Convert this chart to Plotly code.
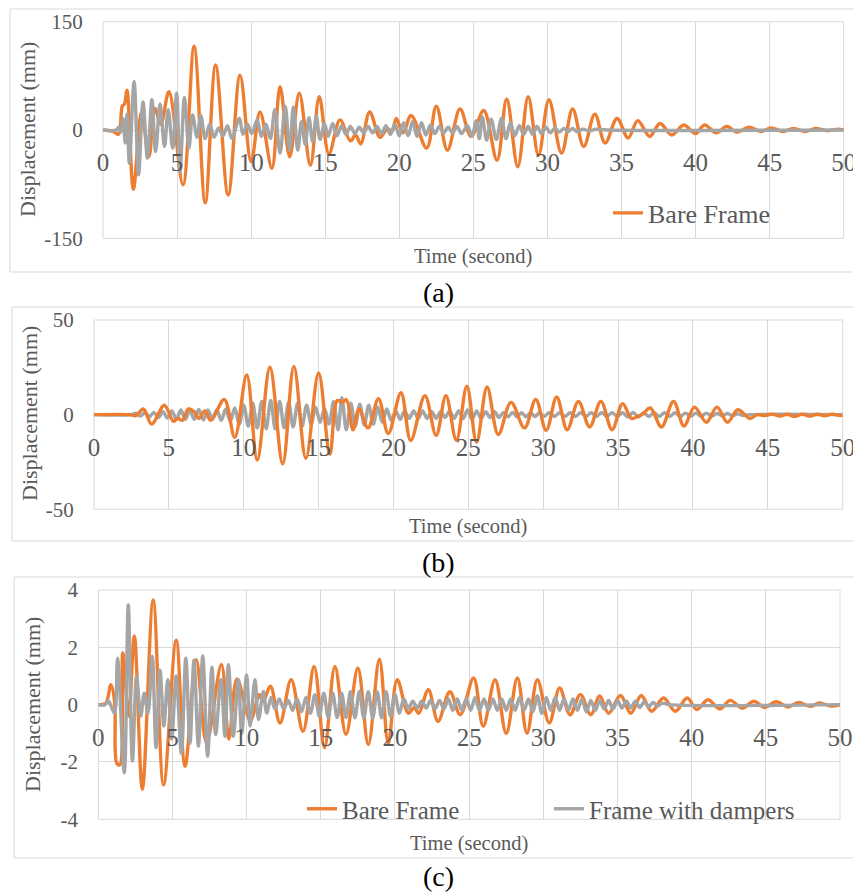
import plotly.graph_objects as go

# page body has an 8px margin, so the figure is drawn 8px smaller and shifted
OFF = 8
W, H = 861 - OFF, 892 - OFF
ORANGE = "#ED7D31"
GRAY = "#A5A5A5"
GRID = "#D9D9D9"
TXT = "#595959"
FONT = "Liberation Serif, Times New Roman, serif"

# ---------------- data: (time [s], displacement [mm]) ----------------
# Panel (a)
A_BARE = [(0, 0), (0.7, -2), (1.05, -6), (1.3, 33), (1.45, 36), (1.62, 55), (2.05, -82), (2.6, 25),
          (3.1, -37), (3.5, 30), (3.9, 8), (4.45, 53), (5.4, -76), (6.15, 116), (6.9, -101), (7.6, 90),
          (8.45, -90), (9.25, 76), (10.0, -44), (10.6, 25), (11.4, -53), (11.95, 60), (12.6, -37),
          (13.25, 51), (14.0, -49), (14.6, 46), (15.25, -33), (16.0, 14), (16.7, -15), (17.05, -7),
          (17.4, -19), (18.0, 25), (18.7, -10), (19.2, 2), (19.5, -2), (19.8, 16), (20.25, -4),
          (20.8, 20), (21.85, -25), (22.5, 33), (23.25, -28), (24.1, 29), (24.85, -9), (25.7, 27),
          (26.6, -42), (27.25, 43), (28.0, -51), (28.7, 46), (29.4, -35), (30.1, 42), (30.95, -32),
          (31.7, 29), (32.45, -23), (33.2, 22), (33.9, -18), (34.7, 16), (35.45, -11), (36.1, 13),
          (36.9, -9), (37.6, 9), (38.4, -7), (39.2, 7), (40.0, -5), (40.6, 7), (41.4, -4), (42.1, 5),
          (42.8, -3), (43.6, 4), (44.4, -2), (45.1, 3), (45.9, -2), (46.6, 2), (47.4, -2), (48.1, 2),
          (48.9, -1), (49.6, 1), (50, 0)]
A_DAMP = [(0, 0), (0.9, 0), (1.05, 4), (1.2, -3), (1.35, 16), (1.5, -18), (1.62, 22), (1.78, -46),
          (2.1, 67), (2.4, -62), (2.7, 39), (3.0, -39), (3.3, 42), (3.55, -30), (3.85, 36), (4.15, -23),
          (4.4, 28), (4.7, -25), (4.97, 51), (5.2, -58), (5.5, 45), (5.8, -25), (6.05, 21), (6.35, -10),
          (6.6, 20), (6.9, -12), (7.2, 8), (7.5, -10), (7.8, 3), (8.1, -8), (8.4, 6), (8.7, -12),
          (9.2, 16), (9.45, -6), (9.75, 8), (10.05, -5), (10.4, 14), (10.7, -9), (11.0, 8), (11.3, -12),
          (11.6, 28), (11.95, -32), (12.3, 33), (12.6, -28), (12.85, 32), (13.15, -28), (13.4, 12),
          (13.65, -20), (13.9, 17), (14.15, -16), (14.4, 19), (14.65, -13), (14.95, 9), (15.2, -9),
          (15.5, 9), (15.8, -8), (16.1, 6), (16.4, -6), (16.7, 5), (17.0, -5), (17.3, 4), (17.6, -4),
          (17.9, 5), (18.2, -4), (18.5, 5), (18.8, -5), (19.1, 6), (19.4, -6), (19.7, 8), (20.0, -8),
          (20.3, 10), (20.6, -8), (20.9, 12), (21.2, -9), (21.5, 10), (21.8, -7), (22.1, 7), (22.4, -5),
          (22.7, 5), (23.0, -4), (23.3, 4), (23.6, -4), (23.9, 5), (24.2, -5), (24.6, 6), (24.9, -9),
          (25.2, 13), (25.4, -12), (25.6, 18), (25.9, -14), (26.2, 15), (26.55, -13), (26.9, 16),
          (27.2, -12), (27.5, 10), (27.8, -8), (28.1, 6), (28.4, -6), (28.7, 5), (29.0, -6), (29.3, 5),
          (29.6, -5), (29.9, 4), (30.2, -4), (30.5, 3), (30.8, -3), (31.1, 2), (31.4, -2), (31.7, 2),
          (32.0, -2), (32.4, 1), (32.8, -1), (33.3, 1), (34.0, 0), (50, 0)]

# Panel (b)
B_BARE = [(0, 0), (2.4, 0), (2.8, -0.5), (3.3, 3), (3.85, -5), (4.7, 5), (5.3, -3.5), (5.6, -2),
          (5.9, -3), (6.3, 3), (6.7, 1.5), (7.0, -2), (7.4, 2), (7.8, -3), (8.7, 8), (9.4, -12),
          (10.2, 21), (10.9, -24), (11.75, 25), (12.6, -26), (13.35, 25.5), (14.15, -23), (15.0, 22),
          (15.75, -21), (16.25, 7.5), (16.6, 6.5), (16.85, 8), (17.3, -8), (17.7, 3), (18.3, -7),
          (19.0, 8.4), (19.65, -10), (20.5, 11.6), (21.15, -13.6), (22.1, 10), (22.85, -11), (23.5, 10),
          (24.2, -13.5), (24.9, 15), (25.55, -14.5), (26.25, 14.6), (27.0, -10.5), (27.85, 6.5),
          (28.75, -7), (29.5, 8), (30.2, -8.3), (30.9, 9.3), (31.6, -8), (32.35, 7), (33.1, -6.5),
          (33.85, 7), (34.6, -8), (35.3, 5.8), (35.9, -2), (36.3, -1), (36.6, 0), (37.15, 3.5),
          (37.9, -6.5), (38.7, 7), (39.4, -6), (40.1, 4), (40.9, -4), (41.6, 4), (42.3, -4), (43.0, 2.6),
          (43.8, -2), (44.3, 0), (44.8, -0.5), (45.3, 0.3), (45.8, -0.8), (46.3, 0.2), (46.8, -1),
          (47.3, 0.3), (47.8, -0.8), (48.3, 0.3), (48.8, -0.6), (49.3, 0.3), (49.8, -0.5), (50, -0.2)]
B_DAMP = [(0, 0), (2.5, 0), (2.8, 0.8), (3.1, -0.8), (3.4, 1), (3.7, -1.2), (4.0, 1.2), (4.3, -1.5),
          (4.6, 1.5), (4.9, -1.8), (5.2, 2), (5.5, -2.5), (5.8, 2.5), (6.1, -2.5), (6.4, 2.5), (6.7, -2.5),
          (7.0, 2.8), (7.3, -2.8), (7.6, 2.5), (7.9, -2.5), (8.2, 2.5), (8.5, -3), (8.8, 3), (9.1, -3.5),
          (9.4, 3.5), (9.7, -5), (10.0, 5), (10.3, -6), (10.6, 6), (10.9, -7), (11.2, 7), (11.5, -7.5),
          (11.8, 7.5), (12.1, -7.5), (12.4, 7), (12.7, -7), (13.0, 6.5), (13.3, -6.5), (13.6, 6),
          (13.9, -6), (14.2, 5), (14.5, -5), (14.8, 4), (15.1, -4), (15.4, 3), (15.7, -5), (16.0, 7),
          (16.3, -8), (16.55, 9), (16.85, -8), (17.15, 6), (17.45, -6), (17.75, 5.5), (18.05, -5.5),
          (18.35, 5), (18.65, -5), (18.95, 4), (19.25, -4), (19.55, 3), (19.85, -3), (20.15, 2),
          (20.45, -2.5), (20.75, 2), (21.05, -2), (21.35, 2), (21.65, -2), (21.95, 2), (22.25, -2),
          (22.55, 1.5), (22.85, -2), (23.15, 1.5), (23.45, -1.5), (23.75, 2), (24.05, -2), (24.35, 2),
          (24.65, -2), (24.95, 2.5), (25.25, -2.5), (25.55, 2), (25.85, -2), (26.15, 1.5), (26.45, -1.5),
          (26.75, 1.5), (27.05, -1.5), (27.35, 1.2), (27.65, -1.2), (27.95, 1.2), (28.25, -1.2),
          (28.55, 1), (28.85, -1.2), (29.15, 1), (29.45, -1), (29.75, 1), (30.05, -1), (30.4, 1),
          (30.75, -1), (31.1, 1), (31.45, -1), (31.8, 1), (32.15, -1), (32.5, 1), (32.85, -1), (33.2, 1),
          (33.55, -1), (33.9, 1), (34.25, -1), (34.6, 1), (34.95, -1), (35.3, 1), (35.65, -1.2),
          (36.0, 1.2), (36.35, -1.2), (36.7, 1), (37.05, -1), (37.4, 1), (37.75, -1), (38.1, 1),
          (38.45, -1), (38.8, 1), (39.15, -1), (39.5, 0.8), (39.85, -0.8), (40.2, 0.8), (40.55, -0.8),
          (40.9, 0.8), (41.25, -0.8), (41.6, 0.6), (41.95, -0.6), (42.3, 0.6), (42.65, -0.6), (43.0, 0.4),
          (43.35, -0.4), (43.8, 0), (50, 0)]

# Panel (c)
C_BARE = [(0, 0), (0.5, 0.05), (0.85, 0.7), (1.1, 0.1), (1.25, -2.05), (1.45, -2.1), (1.65, 1.8),
          (2.05, -0.4), (2.43, 2.4), (2.97, -2.95), (3.7, 3.65), (4.4, -2.8), (5.25, 2.25), (5.85, -2.15),
          (6.6, 1.57), (7.3, -1.33), (8.3, 1.4), (8.8, -1.2), (9.35, 0.9), (10.25, -0.55), (10.85, 0.35),
          (11.1, 0.1), (11.6, 0.64), (12.25, -0.64), (13.0, 0.87), (13.8, -0.93), (14.55, 1.33),
          (15.25, -1.5), (15.95, 1.33), (16.7, -1.04), (17.5, 1.28), (18.2, -1.39), (18.95, 1.59),
          (19.55, -1.35), (20.15, 0.87), (20.9, -0.3), (21.3, -0.1), (21.6, -0.3), (22.25, 0.52),
          (22.9, -0.58), (23.7, 0.45), (24.4, -0.35), (25.3, 0.93), (25.95, -0.75), (26.75, 0.87),
          (27.5, -1.0), (28.25, 0.93), (28.9, -1.0), (29.6, 0.87), (30.4, -0.64), (31.1, 0.58),
          (31.8, -0.35), (32.5, 0.35), (33.2, -0.35), (33.8, 0.3), (34.4, -0.3), (35.2, 0.32),
          (35.9, -0.3), (36.6, 0.32), (37.3, -0.23), (38.1, 0.23), (38.9, -0.23), (39.7, 0.23),
          (40.35, -0.17), (41.1, 0.17), (41.9, -0.15), (42.6, 0.15), (43.4, -0.12), (44.2, 0.12),
          (44.9, -0.1), (45.7, 0.1), (46.5, -0.08), (47.2, 0.08), (48.0, -0.06), (48.6, 0.06),
          (49.4, -0.05), (50, 0)]
C_DAMP = [(0, 0), (0.45, 0), (0.65, 0.15), (0.9, -0.1), (1.1, -0.3), (1.3, 1.62), (1.75, -2.38),
          (2.02, 3.48), (2.3, -1.97), (2.58, 0.99), (2.86, -0.4), (3.1, 0.4), (3.35, -0.3), (3.64, 1.68),
          (3.89, -1.5), (4.16, 1.2), (4.42, -0.75), (4.68, 0.87), (4.95, -1.2), (5.25, 1.0), (5.6, -1.7),
          (5.9, 1.62), (6.18, -1.35), (6.45, 1.55), (6.75, -1.45), (7.04, 1.7), (7.37, -1.8),
          (7.66, 1.31), (7.91, -1.04), (8.27, 0.87), (8.54, -1.1), (8.77, 1.39), (9.1, -1.1),
          (9.44, 0.87), (9.67, -0.99), (10.0, 1.04), (10.23, -0.75), (10.56, 0.87), (10.8, -0.52),
          (11.13, 0.46), (11.35, -0.29), (11.65, 0.25), (11.9, -0.15), (12.2, 0.2), (12.5, -0.15),
          (12.8, 0.15), (13.1, -0.2), (13.4, 0.2), (13.7, -0.25), (14.0, 0.25), (14.3, -0.3),
          (14.6, 0.35), (14.9, -0.4), (15.2, 0.4), (15.5, -0.45), (15.8, 0.4), (16.1, -0.45),
          (16.4, 0.4), (16.7, -0.45), (17.0, 0.45), (17.3, -0.46), (17.6, 0.46), (17.9, -0.46),
          (18.2, 0.45), (18.5, -0.46), (18.8, 0.45), (19.1, -0.46), (19.4, 0.45), (19.7, -0.4),
          (20.0, 0.35), (20.3, -0.3), (20.6, 0.2), (20.9, -0.15), (21.2, 0.12), (21.5, -0.12),
          (21.8, 0.12), (22.1, -0.12), (22.4, 0.15), (22.7, -0.15), (23.0, 0.15), (23.3, -0.15),
          (23.6, 0.2), (23.9, -0.2), (24.2, 0.2), (24.5, -0.2), (24.8, 0.2), (25.1, -0.2), (25.4, 0.25),
          (25.7, -0.2), (26.0, 0.2), (26.3, -0.2), (26.6, 0.2), (26.9, -0.2), (27.2, 0.2), (27.5, -0.2),
          (27.8, 0.2), (28.1, -0.2), (28.4, 0.25), (28.7, -0.2), (29.0, 0.2), (29.3, -0.25), (29.6, 0.3),
          (29.9, -0.3), (30.2, 0.25), (30.5, -0.2), (30.8, 0.25), (31.1, -0.2), (31.4, 0.2), (31.7, -0.2),
          (32.0, 0.2), (32.3, -0.2), (32.6, 0.2), (32.9, -0.25), (33.2, 0.15), (33.5, -0.2), (33.8, 0.15),
          (34.1, -0.15), (34.4, 0.15), (34.7, -0.15), (35.0, 0.15), (35.3, -0.12), (35.6, 0.12),
          (35.9, -0.12), (36.2, 0.12), (36.5, -0.1), (36.8, 0.1), (37.1, -0.08), (37.4, 0.08),
          (37.7, -0.05), (38.0, 0.05), (38.5, 0), (50, 0)]

X_TICKS = [0, 5, 10, 15, 20, 25, 30, 35, 40, 45, 50]
A_Y_TICKS = [-150, 0, 150]
A_Y_TEXT = ["-150", "0", "150"]
B_Y_TICKS = [-50, 0, 50]
B_Y_TEXT = ["-50", "0", "50"]
C_Y_TICKS = [-4, -2, 0, 2, 4]
C_Y_TEXT = ["-4", "-2", "0", "2", "4"]
SERIES_NAMES = ["Bare Frame", "Frame with dampers"]
PANEL_LABELS = ["(a)", "(b)", "(c)"]
X_TITLE = "Time (second)"
Y_TITLE = "Displacement (mm)"


def fx(x):
    """window pixel x -> paper fraction"""
    return (x - OFF) / W


def fy(y):
    """window pixel y -> paper fraction"""
    return 1 - (y - OFF) / H


def xs(pairs):
    return [p[0] for p in pairs]


def ys(pairs):
    return [p[1] for p in pairs]


fig = go.Figure()


def line_trace(pairs, color, name, xa, ya, showlegend, legend="legend"):
    return go.Scatter(x=xs(pairs), y=ys(pairs), mode="lines", name=name,
                      line=dict(color=color, width=3.4, shape="spline", smoothing=1.0),
                      xaxis=xa, yaxis=ya, showlegend=showlegend, legend=legend,
                      hoverinfo="skip")


# (a): bare under, dampers on top
fig.add_trace(line_trace(A_BARE, ORANGE, SERIES_NAMES[0], "x", "y", True, "legend"))
fig.add_trace(line_trace(A_DAMP, GRAY, SERIES_NAMES[1], "x", "y", False))
# (b): dampers under, bare on top
fig.add_trace(line_trace(B_DAMP, GRAY, SERIES_NAMES[1], "x2", "y2", False))
fig.add_trace(line_trace(B_BARE, ORANGE, SERIES_NAMES[0], "x2", "y2", False))
# (c)
fig.add_trace(line_trace(C_BARE, ORANGE, SERIES_NAMES[0], "x3", "y3", True, "legend2"))
fig.add_trace(line_trace(C_DAMP, GRAY, SERIES_NAMES[1], "x3", "y3", True, "legend2"))

# panel geometry in window pixels: plot left, right, top, bottom
PANELS = [
    dict(l=103, r=843.7, t=21.7, b=238.3, rng=[-150, 150], ticks=A_Y_TICKS, text=A_Y_TEXT,
         box=(10, 9, 859, 272), label_y=292, xtitle=(473, 256), ytitle=(28, 130)),
    dict(l=94, r=842.7, t=320, b=509.3, rng=[-50, 50], ticks=B_Y_TICKS, text=B_Y_TEXT,
         box=(12, 307, 859, 541), label_y=562, xtitle=(468, 526), ytitle=(30, 414)),
    dict(l=98.3, r=840, t=590, b=819.3, rng=[-4, 4], ticks=C_Y_TICKS, text=C_Y_TEXT,
         box=(14, 577, 859, 858), label_y=876, xtitle=(469, 843), ytitle=(32, 705)),
]

layout = dict(width=W, height=H, margin=dict(l=0, r=0, t=0, b=0, autoexpand=False),
              paper_bgcolor="white", plot_bgcolor="white", showlegend=True,
              font=dict(family=FONT, color=TXT))
shapes = []
annotations = []
for i, p in enumerate(PANELS):
    sfx = "" if i == 0 else str(i + 1)
    zero_py = (p["t"] + p["b"]) / 2
    layout["xaxis" + sfx] = dict(
        domain=[fx(p["l"]), fx(p["r"])], range=[0, 50], tickvals=X_TICKS,
        showgrid=True, gridcolor=GRID, gridwidth=1, zeroline=False, showline=False,
        anchor="free", position=fy(zero_py), ticks="outside", ticklen=10,
        tickcolor="rgba(0,0,0,0)", tickfont=dict(family=FONT, size=25, color=TXT),
        fixedrange=True, automargin=False)
    layout["yaxis" + sfx] = dict(
        domain=[fy(p["b"]), fy(p["t"])], range=p["rng"], tickvals=p["ticks"], ticktext=p["text"],
        showgrid=True, gridcolor=GRID, gridwidth=1, zeroline=False, showline=False,
        anchor="x" + sfx, ticks="outside", ticklen=15, tickcolor="rgba(0,0,0,0)",
        tickfont=dict(family=FONT, size=21, color=TXT), fixedrange=True, automargin=False)
    # plot-area frame (gridlines at the range ends)
    shapes.append(dict(type="rect", xref="x" + sfx + " domain", yref="y" + sfx + " domain",
                       x0=0, x1=1, y0=0, y1=1, line=dict(color=GRID, width=1), layer="below"))
    bx0, by0, bx1, by1 = p["box"]
    shapes.append(dict(type="rect", xref="paper", yref="paper", x0=fx(bx0), x1=fx(bx1),
                       y0=fy(by1), y1=fy(by0), line=dict(color=GRID, width=1), layer="below"))
    annotations.append(dict(text=X_TITLE, xref="paper", yref="paper", x=fx(p["xtitle"][0]),
                            y=fy(p["xtitle"][1]), xanchor="center", yanchor="middle",
                            showarrow=False, font=dict(family=FONT, size=20.5, color=TXT)))
    annotations.append(dict(text=Y_TITLE, xref="paper", yref="paper", x=fx(p["ytitle"][0]),
                            y=fy(p["ytitle"][1]), xanchor="center", yanchor="middle",
                            textangle=-90, showarrow=False,
                            font=dict(family=FONT, size=22, color=TXT)))
    annotations.append(dict(text=PANEL_LABELS[i], xref="paper", yref="paper", x=fx(439),
                            y=fy(p["label_y"]), xanchor="center", yanchor="middle",
                            showarrow=False, font=dict(family=FONT, size=28, color="black")))

layout["shapes"] = shapes
layout["annotations"] = annotations
layout["legend"] = dict(x=fx(608), y=fy(213), xanchor="left", yanchor="middle",
                        bgcolor="rgba(0,0,0,0)", font=dict(family=FONT, size=26, color=TXT))
layout["legend2"] = dict(orientation="h", x=fx(302), y=fy(809), xanchor="left", yanchor="middle",
                         entrywidth=202, entrywidthmode="pixels",
                         bgcolor="rgba(0,0,0,0)", font=dict(family=FONT, size=25, color=TXT))

fig.update_layout(**layout)
fig.write_html("out.html", config={"displayModeBar": False})
